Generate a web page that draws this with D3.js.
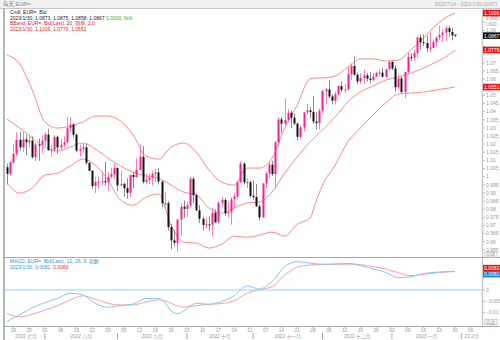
<!DOCTYPE html>
<html><head><meta charset="utf-8">
<script src="https://cdn.jsdelivr.net/npm/d3@7"></script>
<style>
html,body{margin:0;padding:0;background:#fff;}
svg{display:block;font-family:"Liberation Sans","Noto Sans CJK SC",sans-serif;}
</style></head><body>
<svg id="chart" width="500" height="340"></svg>
<script>
// EUR= daily candles, 2022-07-14 .. 2023-01-30
const open = [
1.0058,1.0018,1.0087,1.0140,1.0226,1.0180,1.0229,1.0212,1.0222,1.0120,
1.0198,1.0196,1.0221,1.0259,1.0163,1.0166,1.0245,1.0180,1.0196,1.0211,
1.0298,1.0320,1.0258,1.0160,1.0170,1.0180,1.0085,1.0036,0.9943,0.9967,
0.9968,0.9972,0.9965,1.0000,1.0016,1.0054,0.9946,0.9956,0.9929,0.9901,
1.0010,0.9998,1.0042,1.0122,0.9968,0.9980,0.9994,1.0016,1.0026,0.9970,
0.9837,0.9837,0.9690,0.9608,0.9593,0.9736,0.9815,0.9802,0.9824,0.9987,
0.9886,0.9793,0.9741,0.9703,0.9706,0.9705,0.9778,0.9720,0.9839,0.9857,
0.9774,0.9780,0.9861,0.9878,0.9965,1.0080,0.9965,0.9966,0.9882,0.9875,
0.9818,0.9750,0.9958,1.0019,1.0074,1.0016,1.0210,1.0352,1.0326,1.0348,
1.0393,1.0362,1.0326,1.0245,1.0303,1.0395,1.0408,1.0398,1.0339,1.0330,
1.0405,1.0526,1.0536,1.0493,1.0467,1.0507,1.0557,1.0534,1.0537,1.0630,
1.0681,1.0627,1.0585,1.0607,1.0623,1.0603,1.0595,1.0616,1.0637,1.0640,
1.0614,1.0660,1.0705,1.0665,1.0550,1.0604,1.0520,1.0643,1.0734,1.0733,
1.0760,1.0855,1.0827,1.0822,1.0790,1.0793,1.0828,1.0856,1.0871,1.0886,
1.0913,1.0890,1.0873];
const high = [
1.0080,1.0097,1.0200,1.0272,1.0275,1.0278,1.0257,1.0258,1.0248,1.0210,
1.0234,1.0254,1.0274,1.0294,1.0196,1.0254,1.0253,1.0234,1.0248,1.0368,
1.0364,1.0330,1.0267,1.0195,1.0202,1.0201,1.0090,1.0040,0.9998,0.9999,
1.0030,1.0090,1.0028,1.0055,1.0079,1.0056,1.0033,0.9961,0.9990,1.0012,
1.0030,1.0113,1.0198,1.0187,1.0019,1.0017,1.0037,1.0050,1.0052,0.9976,
0.9907,0.9851,0.9709,0.9671,0.9739,0.9837,0.9854,0.9848,0.9999,0.9999,
0.9897,0.9826,0.9753,0.9749,0.9755,0.9808,0.9799,0.9850,0.9875,0.9870,
0.9848,0.9873,0.9898,0.9977,1.0094,1.0088,0.9990,0.9975,0.9977,0.9954,
0.9830,0.9960,1.0033,1.0094,1.0096,1.0222,1.0364,1.0368,1.0481,1.0414,
1.0406,1.0388,1.0334,1.0315,1.0395,1.0448,1.0430,1.0497,1.0395,1.0420,
1.0536,1.0545,1.0594,1.0505,1.0522,1.0562,1.0587,1.0571,1.0673,1.0694,
1.0736,1.0640,1.0637,1.0658,1.0638,1.0645,1.0637,1.0645,1.0660,1.0670,
1.0664,1.0713,1.0713,1.0684,1.0630,1.0617,1.0646,1.0760,1.0761,1.0778,
1.0866,1.0874,1.0874,1.0867,1.0887,1.0843,1.0860,1.0927,1.0905,1.0930,
1.0929,1.0915,1.0875];
const low = [
0.9952,1.0008,1.0080,1.0124,1.0160,1.0153,1.0130,1.0180,1.0110,1.0095,
1.0097,1.0145,1.0190,1.0160,1.0123,1.0150,1.0141,1.0160,1.0180,1.0203,
1.0275,1.0240,1.0150,1.0123,1.0148,1.0074,1.0034,0.9926,0.9900,0.9928,
0.9950,0.9946,0.9911,0.9988,0.9988,0.9911,0.9941,0.9877,0.9864,0.9876,
0.9929,0.9996,1.0038,0.9956,0.9955,0.9954,0.9945,0.9966,0.9952,0.9810,
0.9807,0.9668,0.9553,0.9570,0.9536,0.9635,0.9747,0.9753,0.9815,0.9835,
0.9786,0.9714,0.9670,0.9685,0.9668,0.9632,0.9713,0.9714,0.9817,0.9760,
0.9751,0.9705,0.9808,0.9860,0.9962,0.9952,0.9930,0.9871,0.9858,0.9813,
0.9730,0.9745,0.9930,0.9991,1.0004,0.9935,1.0185,1.0270,1.0307,1.0335,
1.0300,1.0315,1.0223,1.0235,1.0280,1.0382,1.0360,1.0325,1.0290,1.0290,
1.0389,1.0445,1.0482,1.0444,1.0443,1.0500,1.0520,1.0513,1.0530,1.0595,
1.0622,1.0568,1.0570,1.0572,1.0585,1.0573,1.0585,1.0610,1.0617,1.0610,
1.0608,1.0657,1.0655,1.0520,1.0540,1.0512,1.0484,1.0637,1.0712,1.0713,
1.0730,1.0780,1.0802,1.0766,1.0767,1.0792,1.0800,1.0840,1.0830,1.0835,
1.0860,1.0838,1.0858];
const close = [
1.0018,1.0087,1.0140,1.0226,1.0180,1.0229,1.0212,1.0222,1.0120,1.0198,
1.0196,1.0221,1.0259,1.0163,1.0166,1.0245,1.0180,1.0196,1.0211,1.0298,
1.0320,1.0258,1.0160,1.0170,1.0180,1.0085,1.0036,0.9943,0.9967,0.9968,
0.9972,0.9965,1.0000,1.0016,1.0054,0.9946,0.9956,0.9929,0.9901,1.0010,
0.9998,1.0042,1.0122,0.9968,0.9980,0.9994,1.0016,1.0026,0.9970,0.9837,
0.9837,0.9690,0.9608,0.9593,0.9736,0.9815,0.9802,0.9824,0.9987,0.9886,
0.9793,0.9741,0.9703,0.9706,0.9705,0.9778,0.9720,0.9839,0.9857,0.9774,
0.9780,0.9861,0.9878,0.9965,1.0080,0.9965,0.9966,0.9882,0.9875,0.9818,
0.9750,0.9958,1.0019,1.0074,1.0016,1.0210,1.0352,1.0326,1.0348,1.0393,
1.0362,1.0326,1.0245,1.0303,1.0395,1.0408,1.0398,1.0339,1.0330,1.0405,
1.0526,1.0536,1.0493,1.0467,1.0507,1.0557,1.0534,1.0537,1.0630,1.0681,
1.0627,1.0585,1.0607,1.0623,1.0603,1.0595,1.0616,1.0637,1.0640,1.0614,
1.0660,1.0705,1.0665,1.0550,1.0604,1.0520,1.0643,1.0734,1.0733,1.0760,
1.0855,1.0827,1.0822,1.0790,1.0793,1.0828,1.0856,1.0871,1.0886,1.0913,
1.0890,1.0868,1.0867];

// Bollinger band (20, 2.0) sampled at these bar numbers
const bandAt = [0,4,8,12,16,20,24,28,32,36,40,44,48,52,56,60,64,68,72,76,80,84,88,92,96,98,100,104,108,112,116,120,124,128,132,136,140,142];
const bbUpper = [1.0748,1.0693,1.0533,1.0336,1.0299,1.0311,1.0336,1.0373,1.0373,1.0342,1.0256,1.0127,1.0108,1.0182,1.0207,1.0151,1.0041,0.9967,0.9948,1.0053,1.0053,1.0114,1.0299,1.0441,1.0601,1.0607,1.0607,1.0619,1.0674,1.0724,1.0724,1.0711,1.0717,1.0779,1.0853,1.0933,1.0988,1.1006];
const bbMiddle = [1.0354,1.0299,1.0238,1.0182,1.0158,1.0182,1.0207,1.0170,1.0114,1.0065,1.0028,1.0004,0.9991,0.9948,0.9905,0.9887,0.9807,0.9776,0.9807,0.9838,0.9844,0.9905,1.0022,1.0121,1.0213,1.0250,1.0287,1.0367,1.0459,1.0521,1.0557,1.0594,1.0613,1.0637,1.0668,1.0705,1.0748,1.0779];
const bbLower = [0.9961,0.9899,0.9930,1.0010,1.0022,1.0065,1.0108,1.0071,0.9979,0.9856,0.9825,0.9874,0.9893,0.9702,0.9597,0.9591,0.9561,0.9585,0.9634,0.9628,0.9640,0.9659,0.9634,0.9708,0.9745,0.9850,0.9948,1.0071,1.0213,1.0299,1.0379,1.0453,1.0508,1.0514,1.0520,1.0533,1.0545,1.0551];

// MACD (12, 26, 9) sampled at these bar numbers
const macdAt = [0,4,8,12,16,20,24,28,32,36,40,44,48,50,52,54,56,58,60,64,68,72,76,80,84,88,92,96,100,104,108,112,116,120,124,128,132,136,140,142];
const macdLine = [-0.0138,-0.0110,-0.0078,-0.0056,-0.0037,-0.0015,-0.0022,-0.0059,-0.0076,-0.0069,-0.0062,-0.0038,-0.0037,-0.0055,-0.0092,-0.0104,-0.0092,-0.0070,-0.0059,-0.0063,-0.0051,-0.0025,0.0018,0.0004,0.0037,0.0103,0.0125,0.0119,0.0113,0.0115,0.0117,0.0108,0.0093,0.0078,0.0054,0.0058,0.0073,0.0078,0.0081,0.0081];
const signalLine = [-0.0104,-0.0118,-0.0107,-0.0088,-0.0069,-0.0044,-0.0026,-0.0041,-0.0059,-0.0066,-0.0066,-0.0053,-0.0044,-0.0047,-0.0059,-0.0070,-0.0076,-0.0073,-0.0069,-0.0063,-0.0060,-0.0047,-0.0015,0.0001,0.0015,0.0066,0.0101,0.0110,0.0113,0.0113,0.0114,0.0112,0.0103,0.0093,0.0076,0.0063,0.0069,0.0075,0.0080,0.0083];

// axis text
const priceTicks = d3.range(0, 30).map(k => +(0.955 + k * 0.005).toFixed(3));
const macdTicks = [0.01, 0.005, 0, -0.005, -0.01];
const monthNames = ["2022 七月","2022 八月","2022 九月","2022 十月","2022 十一月","2022 十二月","2023 一月","23 2月"];

// ---------------------------------------------------------------
const svg = d3.select("#chart");
const W = 500, H = 340;
const plotL = 5, plotR = 482;
const mainTop = 8, mainBot = 257, macdTop = 258, macdBot = 326;

// trading calendar (weekdays) starting at the first bar
const calendar = d3.timeDay.range(new Date(2022, 6, 14), new Date(2023, 2, 1))
  .filter(d => d.getDay() !== 0 && d.getDay() !== 6);
const n = close.length;

const x = d3.scaleLinear().domain([0, n - 1]).range([7, 455]);
const y = d3.scaleLinear().domain([0.9506, 1.1037]).range([mainBot, mainTop]);
const ym = d3.scaleLinear().domain([-0.0159, 0.0141]).range([macdBot, macdTop]);

const UP = "#ff1c8d", DOWN = "#111", UPWICK = "#ff7fb8", DOWNWICK = "#8a8a8a";
const BAND = "#ff8a8a", MACDC = "#7ccaff", SIGC = "#ff9f9f";
const AXC = "#9a9a9a";

// frame
svg.append("rect").attr("x", 0).attr("y", 0).attr("width", W).attr("height", 8).attr("fill", "#f1f1f1");
svg.append("text").attr("x", 3).attr("y", 6).attr("font-size", 5.5).attr("fill", "#888").text("每天 EUR=");
svg.append("text").attr("x", 497).attr("y", 6).attr("text-anchor", "end").attr("font-size", 4.8).attr("fill", "#aaa")
  .text("2022/7/14 - 2023/1/30 (GMT)");
svg.append("line").attr("x1", 0).attr("x2", W).attr("y1", mainTop + 0.5).attr("y2", mainTop + 0.5).attr("stroke", "#c8c8c8");
svg.append("rect").attr("x", 3).attr("y", mainTop).attr("width", 2).attr("height", H - mainTop).attr("fill", "#b5b5b5");
svg.append("line").attr("x1", plotR + 0.5).attr("x2", plotR + 0.5).attr("y1", mainTop).attr("y2", macdBot).attr("stroke", "#c8c8c8").attr("stroke-width", 1.5);
svg.append("line").attr("x1", plotL).attr("x2", W).attr("y1", mainBot + 0.5).attr("y2", mainBot + 0.5).attr("stroke", "#a8a8a8");
svg.append("line").attr("x1", plotL).attr("x2", W).attr("y1", macdBot + 0.5).attr("y2", macdBot + 0.5).attr("stroke", "#a8a8a8");

// Bollinger bands
const bandLine = (vals) => d3.line().x((d, k) => x(bandAt[k])).y(d => y(d)).curve(d3.curveMonotoneX)(vals);
[bbUpper, bbMiddle, bbLower].forEach(vals => {
  svg.append("path").attr("d", bandLine(vals)).attr("fill", "none").attr("stroke", BAND).attr("stroke-width", 1);
});

// candles
const bars = svg.append("g");
d3.range(n).forEach(i => {
  const up = close[i] >= open[i];
  const cx = Math.round(x(i)) + 0.5;
  bars.append("line").attr("x1", cx).attr("x2", cx).attr("y1", y(high[i])).attr("y2", y(low[i]))
    .attr("stroke", up ? UPWICK : DOWNWICK).attr("stroke-width", 1);
  const top = y(Math.max(open[i], close[i])), bot = y(Math.min(open[i], close[i]));
  bars.append("rect").attr("x", cx - 1).attr("y", top).attr("width", 2).attr("height", Math.max(1, bot - top))
    .attr("fill", up ? UP : DOWN);
});

// value tags on the axes (tick labels underneath them are left out)
const priceTags = [
  { v: bbUpper[bbUpper.length - 1], bg: "#ee1111" },
  { v: close[n - 1], bg: "#111" },
  { v: bbMiddle[bbMiddle.length - 1], bg: "#ee1111" },
  { v: bbLower[bbLower.length - 1], bg: "#ee1111" }
];
const sigLast = signalLine[signalLine.length - 1], macdLast = macdLine[macdLine.length - 1];
const macdTags = [
  { yy: ym(sigLast) - 3, txt: sigLast.toFixed(4), bg: "#ee1111" },
  { yy: ym(macdLast) + 2.5, txt: macdLast.toFixed(4), bg: "#1a7fd6" }
];
const blocked = priceTags.map(t => y(t.v)).concat(macdTags.map(t => t.yy));
const free = yy => blocked.every(b => Math.abs(b - yy) > 5.2);

// price axis
const fmt = d3.format(".3~f");
const pa = svg.append("g").attr("font-size", 5).attr("fill", AXC);
priceTicks.forEach(v => {
  const yy = y(v);
  if (yy < mainTop + 2 || yy > mainBot - 3) return;
  pa.append("line").attr("x1", plotR + 1).attr("x2", plotR + 3).attr("y1", yy).attr("y2", yy).attr("stroke", "#bbb");
  // the top label sits above the currency caption
  const ly = (v === 1.095) ? yy - 3.6 : yy;
  if (free(yy)) pa.append("text").attr("x", plotR + 4).attr("y", ly + 1.8).text(fmt(v));
});
svg.append("text").attr("x", plotR + 4).attr("y", 26.2).attr("font-size", 5).attr("fill", AXC).text("USD");
const autoBox = (yy) => {
  const g = svg.append("g");
  g.append("rect").attr("x", plotR + 3).attr("y", yy - 2.8).attr("width", 12).attr("height", 5.6).attr("fill", "#fff").attr("stroke", "#aaa").attr("stroke-width", 0.6);
  g.append("text").attr("x", plotR + 4).attr("y", yy + 1.6).attr("font-size", 4.5).attr("fill", "#888").text("自动");
};
autoBox(254.8);

const tag = (yy, txt, bg) => {
  svg.append("rect").attr("x", plotR + 1).attr("y", yy - 3.3).attr("width", 17).attr("height", 6.6).attr("fill", bg);
  svg.append("text").attr("x", plotR + 2).attr("y", yy + 1.9).attr("font-size", 5).attr("fill", "#fff").text(txt);
};
priceTags.forEach(t => tag(y(t.v), t.v.toFixed(4), t.bg));

// legend, price panel
const lg = svg.append("g").attr("font-size", 5);
lg.append("text").attr("x", 10).attr("y", 14).attr("fill", "#222").text("Cndl, EUR=, Bid");
const l2 = lg.append("text").attr("x", 10).attr("y", 19.5).attr("fill", "#222");
l2.append("tspan").text(`2023/1/30, ${open[n-1].toFixed(4)}, ${high[n-1].toFixed(4)}, ${low[n-1].toFixed(4)}, ${close[n-1].toFixed(4)}`);
l2.append("tspan").attr("fill", "#33aa33").text(" 0.0000, N/A");
lg.append("text").attr("x", 10).attr("y", 25).attr("fill", "#ee2222").text("BBand, EUR=, Bid(Last), 20, 简单, 2.0");
lg.append("text").attr("x", 10).attr("y", 30.5).attr("fill", "#ee2222")
  .text(`2023/1/30, ${bbUpper[bbUpper.length-1].toFixed(4)}, ${bbMiddle[bbMiddle.length-1].toFixed(4)}, ${bbLower[bbLower.length-1].toFixed(4)}`);

// MACD panel
svg.append("line").attr("x1", plotL).attr("x2", plotR).attr("y1", ym(0)).attr("y2", ym(0)).attr("stroke", "#8fd3ff").attr("stroke-width", 1);
const mline = (vals) => d3.line().x((d, k) => x(macdAt[k])).y(d => ym(d)).curve(d3.curveMonotoneX)(vals);
svg.append("path").attr("d", mline(signalLine)).attr("fill", "none").attr("stroke", SIGC).attr("stroke-width", 1);
svg.append("path").attr("d", mline(macdLine)).attr("fill", "none").attr("stroke", MACDC).attr("stroke-width", 1);

const ma = svg.append("g").attr("font-size", 5).attr("fill", AXC);
macdTicks.forEach(v => {
  const yy = ym(v);
  ma.append("line").attr("x1", plotR + 1).attr("x2", plotR + 3).attr("y1", yy).attr("y2", yy).attr("stroke", "#bbb");
  if (free(yy)) ma.append("text").attr("x", plotR + 4).attr("y", yy + 1.8).text(d3.format("~g")(v));
});
autoBox(322);
macdTags.forEach(t => tag(t.yy, t.txt, t.bg));

const ml = svg.append("g").attr("font-size", 5);
ml.append("text").attr("x", 10).attr("y", 263).attr("fill", "#3a8fe0").text("MACD, EUR=, Bid(Last), 12, 26, 9, 指数");
const m2 = ml.append("text").attr("x", 10).attr("y", 268.5).attr("fill", "#3a8fe0");
m2.append("tspan").text(`2023/1/30, ${macdLast.toFixed(4)}, `);
m2.append("tspan").attr("fill", "#ee3333").text(sigLast.toFixed(4));

// date axis
const da = svg.append("g").attr("font-size", 4.8).attr("fill", AXC);
calendar.forEach((d, i) => {
  const xx = x(i);
  if (xx > plotR - 4) return;
  if (d.getDay() === 1) {
    da.append("line").attr("x1", xx).attr("x2", xx).attr("y1", macdBot).attr("y2", macdBot + 2).attr("stroke", "#bbb");
    da.append("text").attr("x", xx).attr("y", 332).attr("text-anchor", "middle").text(d3.timeFormat("%d")(d));
  }
});
// month spans
const months = d3.groups(calendar.map((d, i) => ({ d, i })), o => o.d.getFullYear() * 12 + o.d.getMonth());
months.forEach(([key, arr], k) => {
  const x0 = x(arr[0].i), x1 = Math.min(x(arr[arr.length - 1].i) + 3, plotR);
  if (x0 > plotR || k >= monthNames.length) return;
  if (k > 0) da.append("line").attr("x1", x0).attr("x2", x0).attr("y1", 333).attr("y2", 339).attr("stroke", "#aaa");
  const lo = Math.max(x0, 7);
  da.append("text").attr("x", (lo + x1) / 2).attr("y", 338).attr("text-anchor", "middle").text(monthNames[k]);
});
</script>
</body></html>
